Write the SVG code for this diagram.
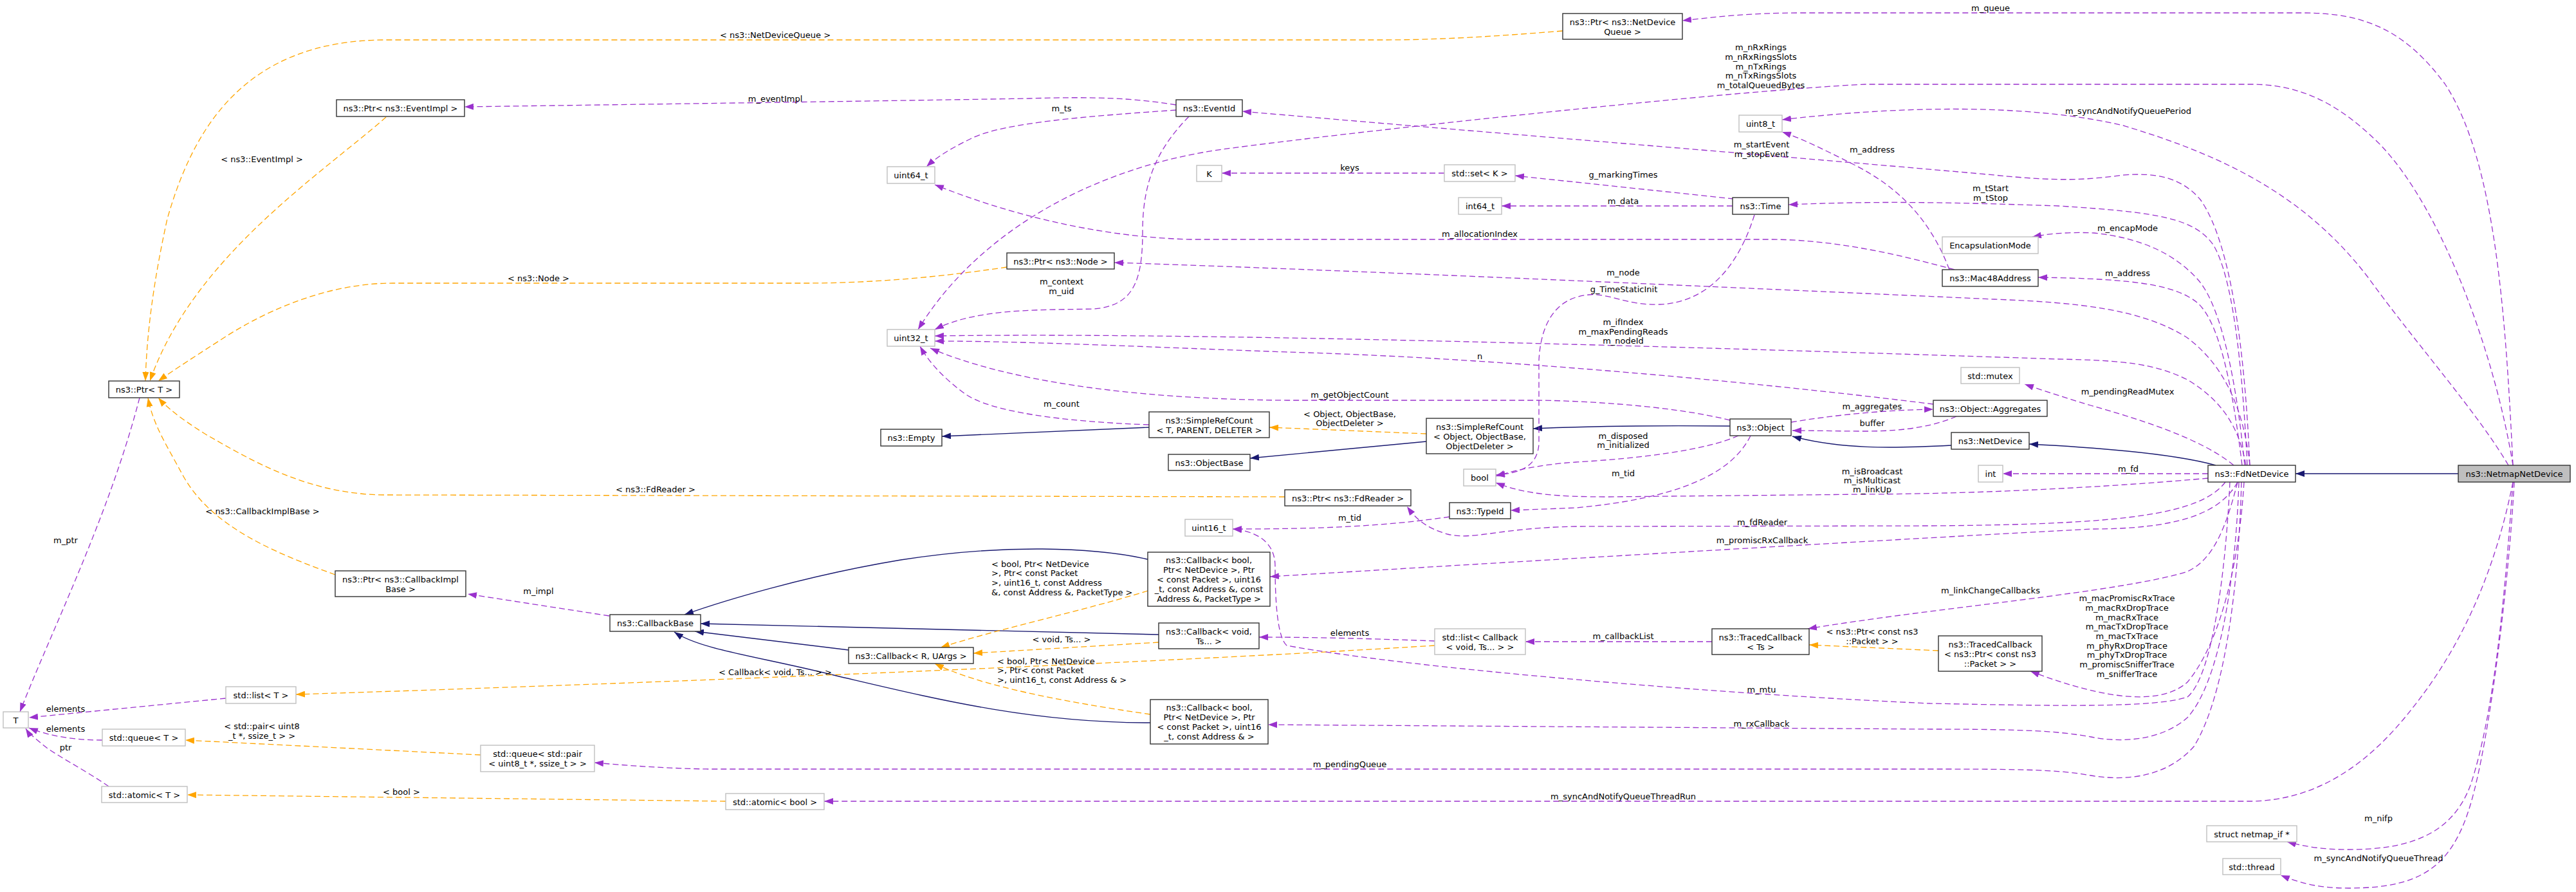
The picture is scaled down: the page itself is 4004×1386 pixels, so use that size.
<svg xmlns="http://www.w3.org/2000/svg" width="4004" height="1386" viewBox="0 0 4004 1386">
<style>
text{font-family:"DejaVu Sans","Liberation Sans",sans-serif;font-size:13px;fill:#000}
.c{text-anchor:middle}
.n rect{fill:#fff;stroke:#333;stroke-width:1.4}
.u rect{fill:#fff;stroke:#bfbfbf;stroke-width:1.4}
.m rect{fill:#bfbfbf;stroke:#333;stroke-width:1.4}
.use{fill:none;stroke:#9a32cd;stroke-width:1.3;stroke-dasharray:9,5;marker-end:url(#ap)}
.tpl{fill:none;stroke:#ffa500;stroke-width:1.3;stroke-dasharray:9,5;marker-end:url(#ao)}
.inh{fill:none;stroke:#191970;stroke-width:1.4;marker-end:url(#ab)}
</style>
<defs>
<marker id="ap" viewBox="0 0 14 10" refX="14" refY="5" markerWidth="14" markerHeight="10" markerUnits="userSpaceOnUse" orient="auto"><path d="M0,0 L14,5 L0,10 z" fill="#9a32cd"/></marker>
<marker id="ao" viewBox="0 0 14 10" refX="14" refY="5" markerWidth="14" markerHeight="10" markerUnits="userSpaceOnUse" orient="auto"><path d="M0,0 L14,5 L0,10 z" fill="#ffa500"/></marker>
<marker id="ab" viewBox="0 0 14 10" refX="14" refY="5" markerWidth="14" markerHeight="10" markerUnits="userSpaceOnUse" orient="auto"><path d="M0,0 L14,5 L0,10 z" fill="#191970"/></marker>
</defs>
<rect x="0" y="0" width="4004" height="1386" fill="#fff"/>
<g id="connectors">
<path class="inh" d="M3821,736 L3568,736"/>
<path class="inh" d="M3444,723 C3390,708 3290,697 3154,690"/>
<path class="inh" d="M3033,692 C2940,697 2860,698 2786,678"/>
<path class="inh" d="M2689,662 C2580,661 2470,662 2383,666"/>
<path class="inh" d="M2217,686 L1943,712"/>
<path class="inh" d="M1786,664 L1464,678"/>
<path class="inh" d="M1784,869 C1700,850 1560,845 1400,870 C1250,895 1120,935 1064,955"/>
<path class="inh" d="M1801,986 L1089,969"/>
<path class="inh" d="M1319,1010 L1080,981"/>
<path class="inh" d="M1788,1123 C1600,1123 1450,1085 1300,1050 C1180,1020 1090,1010 1048,982"/>

<path class="tpl" d="M2429,48 C2330,56 2240,62 2150,62 L600,62 C380,62 300,200 260,340 C238,440 228,520 226,592"/>
<path class="tpl" d="M600,182 C500,270 300,400 233,592"/>
<path class="tpl" d="M1565,415 C1450,432 1350,440 1250,440 L610,440 C500,440 400,490 340,530 C290,562 260,582 246,592"/>
<path class="tpl" d="M1997,772 L600,769 C480,769 390,715 320,675 C280,650 258,632 246,618"/>
<path class="tpl" d="M521,893 C430,860 330,820 285,740 C258,690 238,660 230,618"/>
<path class="tpl" d="M2230,1003 C1800,1030 1000,1062 460,1079"/>
<path class="tpl" d="M747,1173 L288,1150"/>
<path class="tpl" d="M1128,1245 L291,1235"/>
<path class="tpl" d="M1784,918 C1680,950 1560,975 1462,1006"/>
<path class="tpl" d="M1801,998 L1513,1015"/>
<path class="tpl" d="M1788,1110 C1650,1090 1520,1065 1453,1031"/>
<path class="tpl" d="M2217,674 L1973,664"/>
<path class="tpl" d="M3013,1011 L2812,1002"/>

<path class="use" d="M3906,723 C3895,500 3880,250 3800,130 C3740,50 3680,20 3580,20 L2800,20 C2720,20 2670,26 2615,32"/>
<path class="use" d="M3906,723 C3880,560 3800,330 3700,225 C3640,165 3580,131 3500,131 L2900,131 C2700,140 2100,205 1900,232 C1700,260 1520,360 1427,512"/>
<path class="use" d="M3899,723 C3850,640 3760,540 3680,430 C3580,300 3450,240 3300,195 C3150,160 2950,165 2770,186"/>
<path class="use" d="M3497,723 C3490,560 3470,380 3420,310 C3390,275 3350,268 3300,272 C3240,280 3200,282 3100,272 C2800,245 2300,205 1931,173"/>
<path class="use" d="M3493,723 C3485,560 3470,430 3440,380 C3410,340 3360,330 3200,320 C3000,313 2900,313 2780,318"/>
<path class="use" d="M3489,723 C3475,580 3450,470 3415,433 C3380,395 3330,370 3255,362 C3210,360 3180,364 3159,368"/>
<path class="use" d="M3485,723 C3470,600 3450,500 3415,470 C3383,445 3330,433 3168,431"/>
<path class="use" d="M3497,723 C3488,640 3460,570 3400,525 C3330,480 3230,470 3100,465 C2700,447 2100,420 1732,408"/>
<path class="use" d="M3491,723 C3480,660 3450,620 3400,590 C3350,565 3300,560 3200,558 C2800,545 1900,515 1453,522"/>
<path class="use" d="M3005,628 C2700,590 2300,555 2000,547 C1800,540 1600,530 1453,530"/>
<path class="use" d="M2689,653 C2600,630 2450,622 2383,622 L2000,622 C1750,620 1560,590 1446,541"/>
<path class="use" d="M1786,660 C1650,655 1540,640 1500,612 C1470,590 1445,565 1430,538"/>
<path class="use" d="M1848,181 C1800,230 1776,280 1776,360 C1776,440 1760,475 1700,480 C1620,482 1520,478 1453,512"/>
<path class="use" d="M1828,171 C1700,180 1560,190 1510,215 C1475,232 1455,245 1440,259"/>
<path class="use" d="M1828,163 C1760,152 1700,150 1600,153 C1300,158 1000,162 722,166"/>
<path class="use" d="M2245,269 L1899,269"/>
<path class="use" d="M2695,309 L2355,273"/>
<path class="use" d="M2693,320 L2334,320"/>
<path class="use" d="M2727,334 C2700,420 2650,470 2580,473 C2530,475 2500,455 2470,458 C2420,462 2395,500 2392,560 L2392,690 C2390,720 2370,735 2325,738"/>
<path class="use" d="M3038,419 C2950,395 2850,372 2750,372 L1850,372 C1700,368 1560,330 1453,287"/>
<path class="use" d="M3030,419 C3000,340 2950,290 2880,255 C2830,230 2800,215 2770,205"/>
<path class="use" d="M2702,677 C2650,700 2550,712 2450,718 C2390,722 2350,732 2325,740"/>
<path class="use" d="M2721,677 C2690,740 2600,775 2450,789 L2348,793"/>
<path class="use" d="M3432,743 C3300,755 3100,767 2900,768 L2500,772 C2420,772 2370,768 2325,750"/>
<path class="use" d="M2253,803 C2150,818 2050,822 1916,822"/>
<path class="use" d="M3459,749 C3420,800 3300,815 3000,817 L2450,818 C2330,820 2290,840 2250,830 C2215,820 2200,805 2187,787"/>
<path class="use" d="M3478,749 C3450,800 3380,822 3250,822 C3000,835 2400,870 1974,896"/>
<path class="use" d="M3478,749 C3460,820 3440,870 3400,888 C3300,920 3000,945 2810,977"/>
<path class="use" d="M3488,749 C3480,880 3450,1000 3400,1060 C3360,1095 3280,1090 3156,1043"/>
<path class="use" d="M3466,749 C3460,880 3440,1050 3400,1083 C3350,1100 3200,1097 3000,1093 C2700,1080 2200,1040 2000,1003 C1985,990 1982,930 1982,880 C1982,840 1950,825 1916,822"/>
<path class="use" d="M3480,749 C3475,900 3450,1060 3400,1115 C3360,1150 3300,1155 3250,1145 C3200,1136 3150,1133 3000,1133 L1971,1126"/>
<path class="use" d="M3484,749 C3480,900 3460,1080 3410,1160 C3370,1205 3310,1215 3250,1205 C3200,1196 3150,1195 3000,1195 L1100,1195 C1040,1194 980,1190 924,1185"/>
<path class="use" d="M3906,749 C3880,880 3830,1000 3750,1100 C3680,1190 3600,1243 3500,1245 L1281,1245"/>
<path class="use" d="M3906,749 C3895,900 3880,1100 3840,1220 C3810,1300 3740,1320 3650,1320 C3610,1320 3580,1315 3555,1308"/>
<path class="use" d="M3908,749 C3900,900 3870,1150 3840,1250 C3810,1350 3760,1380 3650,1380 C3600,1380 3570,1370 3545,1360"/>
<path class="use" d="M3472,723 C3420,680 3320,650 3250,630 C3200,615 3170,605 3147,597"/>
<path class="use" d="M3432,736 L3113,736"/>
<path class="use" d="M2784,656 C2850,645 2930,637 3005,636"/>
<path class="use" d="M3041,647 C3010,660 2970,670 2900,670 C2860,670 2820,669 2786,669"/>
<path class="use" d="M947,957 L727,923"/>
<path class="use" d="M351,1085 L45,1115"/>
<path class="use" d="M159,1150 C120,1150 80,1145 45,1131"/>
<path class="use" d="M169,1222 C130,1195 80,1170 64,1155 C55,1147 45,1140 40,1132"/>
<path class="use" d="M217,618 C170,800 80,980 31,1106"/>
<path class="use" d="M2230,996 C2150,993 2050,990 1957,990"/>
<path class="use" d="M2661,997 L2371,997"/>

<g class="c">
<text x="1205" y="59">&lt; ns3::NetDeviceQueue &gt;</text>
<text x="407" y="252">&lt; ns3::EventImpl &gt;</text>
<text x="837" y="437">&lt; ns3::Node &gt;</text>
<text x="408" y="799">&lt; ns3::CallbackImplBase &gt;</text>
<text x="1019" y="765">&lt; ns3::FdReader &gt;</text>
<text x="3094" y="17">m_queue</text>
<text x="1205" y="158">m_eventImpl</text>
<text x="1650" y="173">m_ts</text>
<text x="2737" y="78">m_nRxRings</text>
<text x="2737" y="93">m_nRxRingsSlots</text>
<text x="2737" y="108">m_nTxRings</text>
<text x="2737" y="122">m_nTxRingsSlots</text>
<text x="2737" y="137">m_totalQueuedBytes</text>
<text x="3308" y="177">m_syncAndNotifyQueuePeriod</text>
<text x="2738" y="229">m_startEvent</text>
<text x="2738" y="244">m_stopEvent</text>
<text x="2910" y="237">m_address</text>
<text x="2098" y="265">keys</text>
<text x="2523" y="276">g_markingTimes</text>
<text x="3094" y="297">m_tStart</text>
<text x="3094" y="312">m_tStop</text>
<text x="2523" y="317">m_data</text>
<text x="3307" y="359">m_encapMode</text>
<text x="2300" y="368">m_allocationIndex</text>
<text x="2523" y="428">m_node</text>
<text x="3307" y="429">m_address</text>
<text x="1650" y="442">m_context</text>
<text x="1650" y="457">m_uid</text>
<text x="2524" y="454">g_TimeStaticInit</text>
<text x="2523" y="505">m_ifIndex</text>
<text x="2523" y="520">m_maxPendingReads</text>
<text x="2523" y="534">m_nodeId</text>
<text x="2300" y="558">n</text>
<text x="3307" y="613">m_pendingReadMutex</text>
<text x="2098" y="618">m_getObjectCount</text>
<text x="1650" y="632">m_count</text>
<text x="2910" y="636">m_aggregates</text>
<text x="2098" y="648">&lt; Object, ObjectBase,</text>
<text x="2098" y="662">ObjectDeleter &gt;</text>
<text x="2910" y="662">buffer</text>
<text x="2523" y="682">m_disposed</text>
<text x="2523" y="696">m_initialized</text>
<text x="3308" y="733">m_fd</text>
<text x="2910" y="737">m_isBroadcast</text>
<text x="2910" y="751">m_isMulticast</text>
<text x="2910" y="765">m_linkUp</text>
<text x="2523" y="740">m_tid</text>
<text x="2098" y="809">m_tid</text>
<text x="2739" y="816">m_fdReader</text>
<text x="102" y="844">m_ptr</text>
<text x="2739" y="844">m_promiscRxCallback</text>
<text x="3094" y="922">m_linkChangeCallbacks</text>
<text x="837" y="923">m_impl</text>
<text x="3306" y="934">m_macPromiscRxTrace</text>
<text x="3306" y="949">m_macRxDropTrace</text>
<text x="3306" y="964">m_macRxTrace</text>
<text x="3306" y="978">m_macTxDropTrace</text>
<text x="3306" y="993">m_macTxTrace</text>
<text x="3306" y="1008">m_phyRxDropTrace</text>
<text x="3306" y="1022">m_phyTxDropTrace</text>
<text x="3306" y="1037">m_promiscSnifferTrace</text>
<text x="3306" y="1052">m_snifferTrace</text>
<text x="2098" y="988">elements</text>
<text x="2523" y="993">m_callbackList</text>
<text x="2910" y="986">&lt; ns3::Ptr&lt; const ns3</text>
<text x="2910" y="1001">::Packet &gt; &gt;</text>
<text x="1650" y="998">&lt; void, Ts... &gt;</text>
<text x="1205" y="1049">&lt; Callback&lt; void, Ts... &gt; &gt;</text>
<text x="2738" y="1076">m_mtu</text>
<text x="102" y="1106">elements</text>
<text x="2738" y="1129">m_rxCallback</text>
<text x="407" y="1133">&lt; std::pair&lt; uint8</text>
<text x="407" y="1148">_t *, ssize_t &gt; &gt;</text>
<text x="102" y="1137">elements</text>
<text x="102" y="1166">ptr</text>
<text x="2098" y="1192">m_pendingQueue</text>
<text x="624" y="1235">&lt; bool &gt;</text>
<text x="2523" y="1242">m_syncAndNotifyQueueThreadRun</text>
<text x="3697" y="1276">m_nifp</text>
<text x="3697" y="1338">m_syncAndNotifyQueueThread</text>
</g>
<text x="1541" y="881">&lt; bool, Ptr&lt; NetDevice</text>
<text x="1541" y="895">&gt;, Ptr&lt; const Packet</text>
<text x="1541" y="910">&gt;, uint16_t, const Address</text>
<text x="1541" y="925">&amp;, const Address &amp;, PacketType &gt;</text>
<text x="1550" y="1032">&lt; bool, Ptr&lt; NetDevice</text>
<text x="1550" y="1046">&gt;, Ptr&lt; const Packet</text>
<text x="1550" y="1061">&gt;, uint16_t, const Address &amp; &gt;</text>
</g>

<g id="n_netmap" class="m"><rect x="3821" y="723" width="174" height="26"/><text class="c" x="3908" y="741">ns3::NetmapNetDevice</text></g>
<g id="n_fdnet" class="n"><rect x="3432" y="723" width="136" height="26"/><text class="c" x="3500" y="741">ns3::FdNetDevice</text></g>
<g id="n_netdevice" class="n"><rect x="3033" y="672" width="121" height="26"/><text class="c" x="3093.5" y="690">ns3::NetDevice</text></g>
<g id="n_int" class="u"><rect x="3075" y="723" width="38" height="26"/><text class="c" x="3094" y="741">int</text></g>
<g id="n_mutex" class="u"><rect x="3048" y="571" width="91" height="25"/><text class="c" x="3093.5" y="588.5">std::mutex</text></g>
<g id="n_aggregates" class="n"><rect x="3005" y="622" width="177" height="25"/><text class="c" x="3093.5" y="639.5">ns3::Object::Aggregates</text></g>
<g id="n_encap" class="u"><rect x="3019" y="368" width="149" height="26"/><text class="c" x="3093.5" y="386">EncapsulationMode</text></g>
<g id="n_mac48" class="n"><rect x="3019" y="419" width="149" height="26"/><text class="c" x="3093.5" y="437">ns3::Mac48Address</text></g>
<g id="n_uint8" class="u"><rect x="2703" y="179" width="67" height="26"/><text class="c" x="2736.5" y="197">uint8_t</text></g>
<g id="n_time" class="n"><rect x="2693" y="307" width="87" height="26"/><text class="c" x="2736.5" y="325">ns3::Time</text></g>
<g id="n_int64" class="u"><rect x="2267" y="307" width="67" height="26"/><text class="c" x="2300.5" y="325">int64_t</text></g>
<g id="n_setk" class="u"><rect x="2245" y="256" width="110" height="26"/><text class="c" x="2300" y="274">std::set&lt; K &gt;</text></g>
<g id="n_k" class="u"><rect x="1860" y="257" width="39" height="25"/><text class="c" x="1879.5" y="274.5">K</text></g>
<g id="n_eventid" class="n"><rect x="1828" y="155" width="103" height="26"/><text class="c" x="1879.5" y="173">ns3::EventId</text></g>
<g id="n_ptr_ndq" class="n"><rect x="2429" y="21" width="186" height="40"/><text class="c"><tspan x="2522" y="38.5">ns3::Ptr&lt; ns3::NetDevice</tspan><tspan x="2522" y="53.5">Queue &gt;</tspan></text></g>
<g id="n_ptr_eventimpl" class="n"><rect x="523" y="155" width="199" height="26"/><text class="c" x="622.5" y="173">ns3::Ptr&lt; ns3::EventImpl &gt;</text></g>
<g id="n_uint64" class="u"><rect x="1379" y="259" width="74" height="26"/><text class="c" x="1416" y="277">uint64_t</text></g>
<g id="n_ptr_node" class="n"><rect x="1565" y="393" width="167" height="25"/><text class="c" x="1648.5" y="410.5">ns3::Ptr&lt; ns3::Node &gt;</text></g>
<g id="n_uint32" class="u"><rect x="1379" y="512" width="74" height="26"/><text class="c" x="1416" y="530">uint32_t</text></g>
<g id="n_ptr_t" class="n"><rect x="169" y="592" width="110" height="26"/><text class="c" x="224" y="610">ns3::Ptr&lt; T &gt;</text></g>
<g id="n_src_t" class="n"><rect x="1786" y="640" width="187" height="40"/><text class="c"><tspan x="1879.5" y="657.5">ns3::SimpleRefCount</tspan><tspan x="1879.5" y="672.5">&lt; T, PARENT, DELETER &gt;</tspan></text></g>
<g id="n_empty" class="n"><rect x="1369" y="667" width="95" height="26"/><text class="c" x="1416.5" y="685">ns3::Empty</text></g>
<g id="n_objectbase" class="n"><rect x="1816" y="706" width="127" height="25"/><text class="c" x="1879.5" y="723.5">ns3::ObjectBase</text></g>
<g id="n_src_obj" class="n"><rect x="2217" y="650" width="166" height="55"/><text class="c"><tspan x="2300" y="667.5">ns3::SimpleRefCount</tspan><tspan x="2300" y="682.5">&lt; Object, ObjectBase,</tspan><tspan x="2300" y="697.5">ObjectDeleter &gt;</tspan></text></g>
<g id="n_object" class="n"><rect x="2689" y="651" width="95" height="26"/><text class="c" x="2736.5" y="669">ns3::Object</text></g>
<g id="n_bool" class="u"><rect x="2275" y="729" width="50" height="26"/><text class="c" x="2300" y="747">bool</text></g>
<g id="n_typeid" class="n"><rect x="2253" y="781" width="95" height="25"/><text class="c" x="2300.5" y="798.5">ns3::TypeId</text></g>
<g id="n_ptr_fdreader" class="n"><rect x="1997" y="761" width="196" height="25"/><text class="c" x="2095" y="778.5">ns3::Ptr&lt; ns3::FdReader &gt;</text></g>
<g id="n_uint16" class="u"><rect x="1842" y="807" width="74" height="26"/><text class="c" x="1879" y="825">uint16_t</text></g>
<g id="n_cb_pt" class="n"><rect x="1784" y="858" width="190" height="84"/><text class="c"><tspan x="1879" y="875">ns3::Callback&lt; bool,</tspan><tspan x="1879" y="890">Ptr&lt; NetDevice &gt;, Ptr</tspan><tspan x="1879" y="905">&lt; const Packet &gt;, uint16</tspan><tspan x="1879" y="920">_t, const Address &amp;, const</tspan><tspan x="1879" y="935">Address &amp;, PacketType &gt;</tspan></text></g>
<g id="n_ptr_cib" class="n"><rect x="521" y="887" width="203" height="40"/><text class="c"><tspan x="622.5" y="904.5">ns3::Ptr&lt; ns3::CallbackImpl</tspan><tspan x="622.5" y="919.5">Base &gt;</tspan></text></g>
<g id="n_cbbase" class="n"><rect x="948" y="955" width="141" height="26"/><text class="c" x="1018.5" y="973">ns3::CallbackBase</text></g>
<g id="n_cb_void" class="n"><rect x="1801" y="968" width="156" height="40"/><text class="c"><tspan x="1879" y="985.5">ns3::Callback&lt; void,</tspan><tspan x="1879" y="1000.5">Ts... &gt;</tspan></text></g>
<g id="n_cb_r" class="n"><rect x="1319" y="1006" width="194" height="25"/><text class="c" x="1416" y="1023.5">ns3::Callback&lt; R, UArgs &gt;</text></g>
<g id="n_cb_addr" class="n"><rect x="1788" y="1087" width="183" height="69"/><text class="c"><tspan x="1879.5" y="1104">ns3::Callback&lt; bool,</tspan><tspan x="1879.5" y="1119">Ptr&lt; NetDevice &gt;, Ptr</tspan><tspan x="1879.5" y="1134">&lt; const Packet &gt;, uint16</tspan><tspan x="1879.5" y="1149">_t, const Address &amp; &gt;</tspan></text></g>
<g id="n_list_cb" class="u"><rect x="2230" y="977" width="141" height="40"/><text class="c"><tspan x="2300.5" y="994.5">std::list&lt; Callback</tspan><tspan x="2300.5" y="1009.5">&lt; void, Ts... &gt; &gt;</tspan></text></g>
<g id="n_tc_ts" class="n"><rect x="2661" y="977" width="151" height="40"/><text class="c"><tspan x="2736.5" y="994.5">ns3::TracedCallback</tspan><tspan x="2736.5" y="1009.5">&lt; Ts &gt;</tspan></text></g>
<g id="n_tc_pkt" class="n"><rect x="3013" y="988" width="161" height="55"/><text class="c"><tspan x="3093.5" y="1005.5">ns3::TracedCallback</tspan><tspan x="3093.5" y="1020.5">&lt; ns3::Ptr&lt; const ns3</tspan><tspan x="3093.5" y="1035.5">::Packet &gt; &gt;</tspan></text></g>
<g id="n_t" class="u"><rect x="5" y="1106" width="39" height="25"/><text class="c" x="24.5" y="1123.5">T</text></g>
<g id="n_list_t" class="u"><rect x="351" y="1067" width="109" height="26"/><text class="c" x="405.5" y="1085">std::list&lt; T &gt;</text></g>
<g id="n_queue_t" class="u"><rect x="159" y="1133" width="129" height="26"/><text class="c" x="223.5" y="1151">std::queue&lt; T &gt;</text></g>
<g id="n_queue_pair" class="u"><rect x="747" y="1158" width="177" height="41"/><text class="c"><tspan x="835.5" y="1176">std::queue&lt; std::pair</tspan><tspan x="835.5" y="1191">&lt; uint8_t *, ssize_t &gt; &gt;</tspan></text></g>
<g id="n_atomic_t" class="u"><rect x="158" y="1222" width="133" height="25"/><text class="c" x="224.5" y="1239.5">std::atomic&lt; T &gt;</text></g>
<g id="n_atomic_bool" class="u"><rect x="1128" y="1233" width="153" height="25"/><text class="c" x="1204.5" y="1250.5">std::atomic&lt; bool &gt;</text></g>
<g id="n_netmap_if" class="u"><rect x="3430" y="1283" width="140" height="25"/><text class="c" x="3500" y="1300.5">struct netmap_if *</text></g>
<g id="n_thread" class="u"><rect x="3455" y="1334" width="90" height="25"/><text class="c" x="3500" y="1351.5">std::thread</text></g>
</svg>
